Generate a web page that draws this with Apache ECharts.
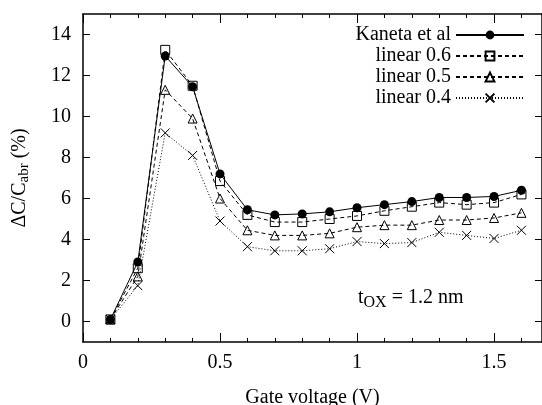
<!DOCTYPE html>
<html>
<head>
<meta charset="utf-8">
<script src="https://cdn.jsdelivr.net/npm/echarts@6/dist/echarts.min.js"></script>
<style>
html, body { margin: 0; padding: 0; background: #fff; }
#chart { width: 542px; height: 405px; }
</style>
</head>
<body>
<div id="chart"></div>
<script>
const volts = [0.1, 0.2, 0.3, 0.4, 0.5, 0.6, 0.7, 0.8, 0.9, 1.0, 1.1, 1.2, 1.3, 1.4, 1.5, 1.6]
const kaneta = [0.1, 2.9, 12.95, 11.45, 7.2, 5.45, 5.2, 5.25, 5.35, 5.55, 5.7, 5.85, 6.05, 6.05, 6.1, 6.4]
const linear06 = [0.1, 2.6, 13.25, 11.5, 6.85, 5.2, 4.85, 4.85, 5.0, 5.15, 5.4, 5.6, 5.8, 5.7, 5.8, 6.2]
const linear05 = [0.1, 2.2, 11.3, 9.9, 6.0, 4.45, 4.2, 4.2, 4.3, 4.6, 4.7, 4.7, 4.95, 4.95, 5.05, 5.3]
const linear04 = [0.1, 1.75, 9.2, 8.1, 4.9, 3.65, 3.45, 3.45, 3.55, 3.9, 3.8, 3.85, 4.35, 4.2, 4.05, 4.45]
const names = ['Kaneta et al', 'linear 0.6', 'linear 0.5', 'linear 0.4']
const xMinorTicks = [0, 0.1, 0.2, 0.3, 0.4, 0.5, 0.6, 0.7, 0.8, 0.9, 1.0, 1.1, 1.2, 1.3, 1.4, 1.5, 1.6]
const xMajorTicks = [0, 0.5, 1, 1.5]
const yTicks = [0, 2, 4, 6, 8, 10, 12, 14]

const font = 'Liberation Serif'
const black = '#000'

const pairs = (ys) => volts.map((v, i) => [v, ys[i]])

const chart = echarts.init(document.getElementById('chart'))

const frame = { show: true, onZero: false, lineStyle: { color: black, width: 1.5 } }
const noLine = { show: false, onZero: false }
// the plot runs off the right edge of the picture
const gridBox = { left: 83, right: 0, top: 14, bottom: 63, outerBoundsMode: 'none', containLabel: false }

const xBase = {
  type: 'value',
  min: 0,
  max: 1.675,
  splitLine: { show: false },
}

const option = {
  animation: false,
  backgroundColor: '#fff',
  grid: [
    Object.assign({}, gridBox),
    Object.assign({}, gridBox),
  ],
  legend: {
    orient: 'vertical',
    align: 'right',
    right: 12,
    top: 20,
    itemWidth: 68,
    itemHeight: 11,
    itemGap: 1,
    selectedMode: false,
    textStyle: { fontFamily: font, fontSize: 20, lineHeight: 20, color: black },
    data: names,
  },
  xAxis: [
    Object.assign({}, xBase, {
      gridIndex: 0,
      position: 'bottom',
      name: 'Gate voltage (V)',
      nameLocation: 'middle',
      nameGap: 46,
      nameTextStyle: { fontFamily: font, fontSize: 20, color: black },
      axisLine: frame,
      axisTick: { show: true, inside: true, length: 4, lineStyle: { color: black }, customValues: xMinorTicks },
      axisLabel: {
        margin: 11,
        fontFamily: font,
        fontSize: 20,
        color: black,
        customValues: xMajorTicks,
        formatter: (v) => String(v),
      },
    }),
    Object.assign({}, xBase, {
      gridIndex: 0,
      position: 'top',
      axisLine: frame,
      axisTick: { show: true, inside: true, length: 4, lineStyle: { color: black }, customValues: xMinorTicks },
      axisLabel: { show: false },
    }),
    Object.assign({}, xBase, {
      gridIndex: 1,
      position: 'bottom',
      axisLine: noLine,
      axisTick: { show: true, inside: true, length: 9, lineStyle: { color: black }, customValues: xMajorTicks },
      axisLabel: { show: false },
    }),
    Object.assign({}, xBase, {
      gridIndex: 1,
      position: 'top',
      axisLine: noLine,
      axisTick: { show: true, inside: true, length: 9, lineStyle: { color: black }, customValues: xMajorTicks },
      axisLabel: { show: false },
    }),
  ],
  yAxis: [
    {
      type: 'value',
      gridIndex: 0,
      position: 'left',
      min: -1,
      max: 15,
      name: '{a|ΔC/C}{s|abr}{a| (%)}',
      nameLocation: 'middle',
      nameGap: 51,
      nameTextStyle: {
        color: black,
        rich: {
          a: { fontFamily: font, fontSize: 20, lineHeight: 24, color: black },
          s: { fontFamily: font, fontSize: 15, lineHeight: 12, verticalAlign: 'bottom', color: black },
        },
      },
      splitLine: { show: false },
      axisLine: frame,
      axisTick: { show: true, inside: true, length: 7, lineStyle: { color: black }, customValues: yTicks },
      axisLabel: { margin: 12, fontFamily: font, fontSize: 20, color: black, customValues: yTicks },
    },
    {
      type: 'value',
      gridIndex: 0,
      position: 'right',
      min: -1,
      max: 15,
      splitLine: { show: false },
      axisLine: frame,
      axisTick: { show: true, inside: true, length: 7, lineStyle: { color: black }, customValues: yTicks },
      axisLabel: { show: false },
    },
    {
      type: 'value',
      gridIndex: 1,
      min: -1,
      max: 15,
      show: false,
    },
  ],
  graphic: [
    {
      type: 'text',
      left: 358,
      top: 288,
      style: {
        text: '{a|t}{s|OX}{a| = 1.2 nm}',
        rich: {
          a: { fontFamily: font, fontSize: 20, lineHeight: 26, fill: black },
          s: { fontFamily: font, fontSize: 16, lineHeight: 12, verticalAlign: 'bottom', fill: black },
        },
      },
    },
  ],
  series: [
    {
      name: names[0],
      type: 'line',
      xAxisIndex: 0,
      yAxisIndex: 0,
      data: pairs(kaneta),
      symbol: 'circle',
      symbolSize: 9,
      lineStyle: { color: black, width: 1 },
      itemStyle: { color: black, borderColor: black, borderWidth: 0 },
    },
    {
      name: names[1],
      type: 'line',
      xAxisIndex: 0,
      yAxisIndex: 0,
      data: pairs(linear06),
      symbol: 'rect',
      symbolSize: 9,
      lineStyle: { color: black, width: 1, type: [4, 3] },
      itemStyle: { color: 'rgba(255,255,255,0)', borderColor: black, borderWidth: 1 },
    },
    {
      name: names[2],
      type: 'line',
      xAxisIndex: 0,
      yAxisIndex: 0,
      data: pairs(linear05),
      symbol: 'triangle',
      symbolSize: 9,
      lineStyle: { color: black, width: 1, type: [4, 3] },
      itemStyle: { color: 'rgba(255,255,255,0)', borderColor: black, borderWidth: 1 },
    },
    {
      name: names[3],
      type: 'line',
      xAxisIndex: 0,
      yAxisIndex: 0,
      data: pairs(linear04),
      symbol: 'path://M0,0L10,10M10,0L0,10',
      symbolSize: 9,
      lineStyle: { color: black, width: 1, type: [1, 2] },
      itemStyle: { color: 'rgba(255,255,255,0)', borderColor: black, borderWidth: 1 },
    },
  ],
}

chart.setOption(option)
</script>
</body>
</html>
